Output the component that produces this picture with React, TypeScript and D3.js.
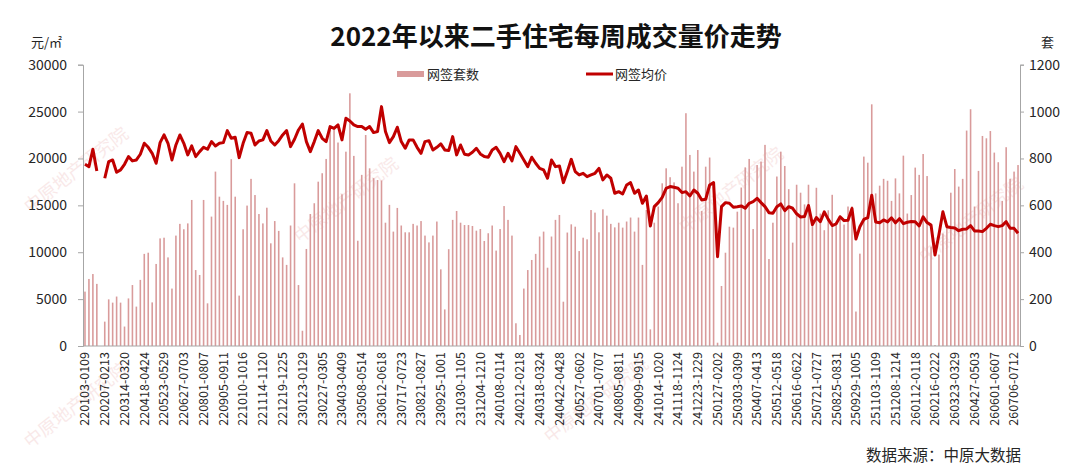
import { useEffect, useRef } from 'react'
import * as d3 from 'd3'

// 网签套数 (weekly signed units), right axis. null = no data that week
const weekSets: (number | null)[] = [
  232, 286, 307, 265, null, 104, 199, 185, 211, 185, 83, 203, 260, 168, 282, 393, 398, 186, 350, 459,
  462, 378, 245, 471, 521, 498, 523, 623, 324, 303, 623, 182, 552, 744, 637, 619, 602, 797, 637, 215,
  498, 599, 713, 644, 563, 523, 590, 438, 533, 491, 378, 346, 514, 694, 260, 65, 414, 563, 609, 701,
  737, 798, 929, 929, 868, 647, 829, 1078, 811, 449, 730, 900, 758, 716, 708, 706, 526, 602, 488, 589,
  514, 485, 485, 521, 514, 533, 471, 442, 471, 531, 327, 156, 413, 538, 576, 526, 516, 516, 512, 492,
  499, 448, 481, 514, 407, 499, 597, 538, 471, 97, 47, 245, 324, 367, 393, 467, 488, 334, 467, 538,
  559, 189, 484, 519, 509, 405, 462, 455, 580, 569, 485, 583, 556, 521, 506, 526, 505, 531, 548, 488,
  548, 346, 580, 71, 526, 595, 694, 758, 720, 698, 609, 765, 993, 815, 744, 836, 576, 765, 804, 680,
  14, 256, 398, 509, 505, 573, 676, 762, 798, 499, 772, 787, 858, 371, 526, 723, 829, 768, 669, 441,
  688, 654, 604, 688, 522, 675, 565, 494, 579, 645, 515, 557, 518, 595, 596, 147, 394, 808, 782, 1031,
  651, 684, 713, 705, 619, 715, 651, 812, 565, 644, 761, 730, 819, 725, 424, 4, 390, 480, 520, 654,
  755, 680, 713, 919, 1010, 595, 747, 896, 886, 917, 825, 784, 619, 848, 713, 744, 772,
]

// 网签均价 (average signed price, 元/㎡), left axis
const weekPrice: (number | null)[] = [
  19380, 19130, 20980, 18670, null, 17890, 19660, 19840, 18530, 18780, 19380, 20200, 19740, 19840, 20450, 21620, 21190, 20550, 19490, 21690,
  22510, 21620, 19840, 21440, 22510, 21620, 20380, 21340, 20200, 20730, 21190, 20980, 21800, 21340, 21620, 21690, 22970, 22150, 22260, 20090,
  21620, 22760, 22690, 21440, 21870, 21980, 22970, 21870, 21440, 21900, 22510, 22970, 21260, 22050, 23040, 23680, 21800, 20730, 21800, 22970,
  22150, 21800, 23400, 23220, 23580, 21980, 24290, 24000, 23580, 23400, 23400, 23110, 23400, 22760, 22870, 25530, 22870, 21690, 22330, 23330,
  21800, 21090, 21980, 21980, 21190, 20550, 21800, 21900, 20900, 21190, 21550, 20910, 20840, 22330, 20380, 21440, 20450, 20380, 20660, 21090,
  20480, 20200, 20130, 20910, 21190, 20550, 19660, 20550, 19740, 21260, 20550, 19840, 19130, 20130, 19490, 18950, 18780, 17890, 19840, 19130,
  19200, 17420, 18600, 19910, 18600, 18240, 18420, 18060, 18240, 18420, 18950, 17710, 18240, 17890, 16290, 16460, 16210, 17170, 17420, 16290,
  16640, 15220, 16000, 12800, 14860, 15290, 15860, 16820, 17000, 16930, 16820, 16360, 16460, 16000, 16640, 16290, 15580, 15650, 17170, 17420,
  9530, 14860, 15290, 15220, 14790, 14860, 14940, 14690, 15220, 15400, 15750, 15290, 14860, 14220, 14150, 14860, 15150, 14440, 14860, 14690,
  14100, 13760, 13800, 14990, 12950, 13700, 13250, 14300, 13500, 12850, 13030, 13780, 13370, 13420, 14670, 11400, 12720, 13500, 13690, 16080,
  13230, 13150, 13440, 13240, 13670, 13140, 13580, 13050, 13200, 13280, 13250, 12800, 13780, 13160, 12890, 9700, 11900, 14310, 12720, 12640,
  12590, 12300, 12450, 12480, 12840, 12270, 12270, 12200, 12550, 12980, 12840, 12730, 12840, 13260, 12550, 12550, 12020,
]

// one label every 5 weeks
const tickLabels = [
  '220103-0109', '220207-0213', '220314-0320', '220418-0424', '220523-0529', '220627-0703',
  '220801-0807', '220905-0911', '221010-1016', '221114-1120', '221219-1225', '230123-0129',
  '230227-0305', '230403-0409', '230508-0514', '230612-0618', '230717-0723', '230821-0827',
  '230925-1001', '231030-1105', '231204-1210', '240108-0114', '240212-0218', '240318-0324',
  '240422-0428', '240527-0602', '240701-0707', '240805-0811', '240909-0915', '241014-1020',
  '241118-1124', '241223-1229', '250127-0202', '250303-0309', '250407-0413', '250512-0518',
  '250616-0622', '250721-0727', '250825-0831', '250929-1005', '251103-1109', '251208-1214',
  '260112-0118', '260216-0222', '260323-0329', '260427-0503', '260601-0607', '260706-0712',
]

const priceTicks = [0, 5000, 10000, 15000, 20000, 25000, 30000]
const setsTicks = [0, 200, 400, 600, 800, 1000, 1200]

const FONT = '"Noto Sans CJK SC", "Noto Sans", sans-serif'
const BAR = '#d99b9b'
const LINE = '#c00000'
const AXIS = '#a6a6a6'
const TEXT = '#262626'

const App = () => {
  const ref = useRef<HTMLDivElement>(null)

  useEffect(() => {
    if (!ref.current) return
    ref.current.innerHTML = ''
    const W = 1080
    const H = 470
    const plot = { left: 83, right: 1020, top: 64.7, bottom: 346 }

    const svg = d3
      .select(ref.current)
      .append('svg')
      .attr('width', W)
      .attr('height', H)
      .style('font-family', FONT)
      .style('display', 'block')

    svg.append('rect').attr('width', W).attr('height', H).attr('fill', '#ffffff')

    // faint watermark, kept inside the frame
    const marks = [
      [350, 205], [735, 195], [975, 225], [80, 410], [600, 405], [80, 175],
    ]
    marks.forEach(([mx, my]) => {
      svg
        .append('text')
        .attr('transform', `translate(${mx},${my}) rotate(-38)`)
        .attr('text-anchor', 'middle')
        .style('font-size', '18px')
        .style('fill', '#e8a8a8')
        .style('opacity', 0.25)
        .text('中原地产研究院')
    })

    const idx = d3.range(weekSets.length)
    const x = d3
      .scaleBand<number>()
      .domain(idx)
      .range([plot.left, plot.right])
      .paddingInner(0.6)
      .paddingOuter(0.3)
    const cx = (i: number) => (x(i) as number) + x.bandwidth() / 2

    const yPrice = d3.scaleLinear().domain([0, 30000]).range([plot.bottom, plot.top])
    const ySets = d3.scaleLinear().domain([0, 1200]).range([plot.bottom, plot.top])

    // bars
    svg
      .append('g')
      .selectAll('rect')
      .data(idx.filter((i) => weekSets[i] != null))
      .enter()
      .append('rect')
      .attr('x', (i) => x(i) as number)
      .attr('width', x.bandwidth())
      .attr('y', (i) => ySets(weekSets[i] as number))
      .attr('height', (i) => plot.bottom - ySets(weekSets[i] as number))
      .attr('fill', BAR)

    // price line
    const line = d3
      .line<number>()
      .defined((i) => weekPrice[i] != null)
      .x((i) => cx(i))
      .y((i) => yPrice(weekPrice[i] as number))
    svg
      .append('path')
      .datum(idx)
      .attr('d', line)
      .attr('fill', 'none')
      .attr('stroke', LINE)
      .attr('stroke-width', 3)
      .attr('stroke-linejoin', 'round')

    // left axis
    const left = svg
      .append('g')
      .attr('transform', `translate(${plot.left},0)`)
      .call(d3.axisLeft(yPrice).tickValues(priceTicks).tickSize(5).tickPadding(11).tickFormat((d) => String(d)))
    left.select('.domain').attr('stroke', AXIS)
    left.selectAll('line').attr('stroke', AXIS)
    left.selectAll('text').style('font-size', '14px').style('fill', TEXT).style('font-family', FONT)

    // right axis
    const right = svg
      .append('g')
      .attr('transform', `translate(${plot.right},0)`)
      .call(d3.axisRight(ySets).tickValues(setsTicks).tickSize(4).tickPadding(5).tickFormat((d) => String(d)))
    right.select('.domain').attr('stroke', AXIS)
    right.selectAll('line').attr('stroke', AXIS)
    right.selectAll('text').style('font-size', '14px').style('fill', TEXT).style('font-family', FONT)

    // bottom axis
    svg
      .append('line')
      .attr('x1', plot.left)
      .attr('x2', plot.right)
      .attr('y1', plot.bottom)
      .attr('y2', plot.bottom)
      .attr('stroke', AXIS)

    svg
      .append('g')
      .selectAll('text')
      .data(tickLabels)
      .enter()
      .append('text')
      .attr('transform', (_, k) => `translate(${cx(k * 5)},${plot.bottom + 6}) rotate(-90)`)
      .attr('text-anchor', 'end')
      .attr('dy', '0.35em')
      .style('font-size', '12.5px')
      .style('fill', TEXT)
      .text((d) => d)

    // title
    svg
      .append('text')
      .attr('x', 556)
      .attr('y', 46)
      .attr('text-anchor', 'middle')
      .style('font-size', '26px')
      .style('font-weight', '700')
      .style('fill', '#111')
      .text('2022年以来二手住宅每周成交量价走势')

    // units
    svg.append('text').attr('x', 31).attr('y', 47).style('font-size', '13px').style('fill', TEXT).text('元/㎡')
    svg.append('text').attr('x', 1041).attr('y', 47).style('font-size', '13px').style('fill', TEXT).text('套')

    // legend
    svg.append('rect').attr('x', 397).attr('y', 71).attr('width', 27).attr('height', 6).attr('fill', BAR)
    svg.append('text').attr('x', 427).attr('y', 79).style('font-size', '13px').style('fill', TEXT).text('网签套数')
    svg
      .append('line')
      .attr('x1', 586)
      .attr('x2', 613)
      .attr('y1', 74)
      .attr('y2', 74)
      .attr('stroke', LINE)
      .attr('stroke-width', 3)
    svg.append('text').attr('x', 615).attr('y', 79).style('font-size', '13px').style('fill', TEXT).text('网签均价')

    // source
    svg
      .append('text')
      .attr('x', 1021)
      .attr('y', 461)
      .attr('text-anchor', 'end')
      .style('font-size', '15.5px')
      .style('fill', TEXT)
      .text('数据来源：中原大数据')
  }, [])

  return <div ref={ref} style={{ position: 'absolute', left: 0, top: 0, width: 1080, height: 470 }} />
}

export default App
